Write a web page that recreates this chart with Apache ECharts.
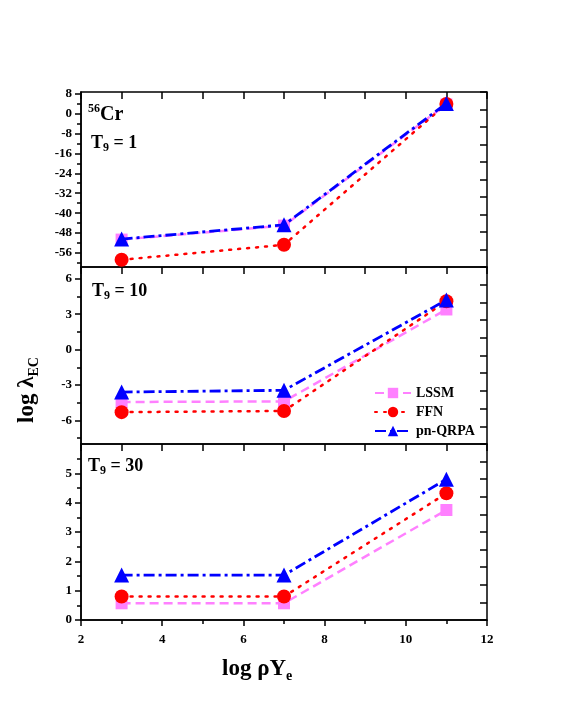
<!DOCTYPE html>
<html>
<head>
<meta charset="utf-8">
<script src="https://cdn.jsdelivr.net/npm/echarts@6/dist/echarts.min.js"></script>
<style>
  html, body { margin: 0; padding: 0; background: #fff; }
  #chart { width: 561px; height: 726px; }
</style>
</head>
<body>
<div id="chart"></div>
<script>
// log rhoYe
var xVals = [3, 7, 11];

// T9 = 1
var lssm1 = [-50.6, -45.0, 3.6];
var ffn1 = [-58.7, -52.7, 3.8];
var qrpa1 = [-50.4, -44.7, 4.0];

// T9 = 10
var lssm10 = [-4.44, -4.39, 3.4];
var ffn10 = [-5.3, -5.2, 4.1];
var qrpa10 = [-3.6, -3.45, 4.2];

// T9 = 30
var lssm30 = [0.57, 0.57, 3.75];
var ffn30 = [0.8, 0.8, 4.32];
var qrpa30 = [1.53, 1.53, 4.8];

// tick labels
var yMajor1 = [-56, -48, -40, -32, -24, -16, -8, 0, 8];
var yMinor1 = [-60, -52, -44, -36, -28, -20, -12, -4, 4];
var yMajor10 = [-6, -3, 0, 3, 6];
var yMinor10 = [-7.5, -4.5, -1.5, 1.5, 4.5];
var yMajor30 = [0, 1, 2, 3, 4, 5];
var yMinor30 = [0.5, 1.5, 2.5, 3.5, 4.5, 5.5];

var ranges = [[-61.6, 8.6], [-8, 7], [0, 6]];
var majors = [yMajor1, yMajor10, yMajor30];
var minors = [yMinor1, yMinor10, yMinor30];

var font = 'Liberation Serif';
var pink = '#ff80ff', red = '#ff0000', blue = '#0000ff';

var chart = echarts.init(document.getElementById('chart'));

var grids = [
  { left: 81, right: 74, top: 92, height: 175 },
  { left: 81, right: 74, top: 267, height: 177 },
  { left: 81, right: 74, top: 444, height: 176 }
];
grids.forEach(function (g) {
  g.show = true;
  g.borderColor = '#000';
  g.borderWidth = 1.5;
  g.backgroundColor = 'transparent';
});

var black = { color: '#000', width: 1.5 };
var xAxes = [], yAxes = [];
// bottom x axes 0..2
for (var i = 0; i < 3; i++) {
  var last = i === 2;
  xAxes.push({
    type: 'value', gridIndex: i, min: 2, max: 12, interval: 2,
    position: 'bottom',
    axisLine: { show: last, onZero: false, lineStyle: black },
    axisTick: { show: last, inside: false, length: 6, lineStyle: black },
    minorTick: { show: last, splitNumber: 2, length: 4, lineStyle: black },
    axisLabel: { show: last, margin: 13, color: '#000', fontFamily: font, fontWeight: 'bold', fontSize: 13 },
    splitLine: { show: false }
  });
}
// top x axes 3..5
for (var i = 0; i < 3; i++) {
  xAxes.push({
    type: 'value', gridIndex: i, min: 2, max: 12, interval: 1,
    position: 'top',
    axisLine: { show: false, onZero: false },
    axisTick: { show: true, inside: true, length: 7, lineStyle: black },
    axisLabel: { show: false },
    splitLine: { show: false }
  });
}
// left major y axes 0..2
for (var i = 0; i < 3; i++) {
  yAxes.push({
    type: 'value', gridIndex: i, min: ranges[i][0], max: ranges[i][1],
    position: 'left',
    axisLine: { show: true, onZero: false, lineStyle: black },
    axisTick: { show: true, inside: false, length: 6, customValues: majors[i], lineStyle: black },
    axisLabel: { show: true, margin: 9, customValues: majors[i], color: '#000', fontFamily: font, fontWeight: 'bold', fontSize: 13 },
    splitLine: { show: false }
  });
}
// right y axes 3..5 (10 equal divisions)
for (var i = 0; i < 3; i++) {
  yAxes.push({
    type: 'value', gridIndex: i, min: ranges[i][0], max: ranges[i][1],
    interval: (ranges[i][1] - ranges[i][0]) / 10,
    position: 'right',
    axisLine: { show: false, onZero: false },
    axisTick: { show: true, inside: true, length: 7, lineStyle: black },
    axisLabel: { show: false },
    splitLine: { show: false }
  });
}
// left minor y axes 6..8
for (var i = 0; i < 3; i++) {
  yAxes.push({
    type: 'value', gridIndex: i, min: ranges[i][0], max: ranges[i][1],
    position: 'left',
    axisLine: { show: false, onZero: false },
    axisTick: { show: true, inside: false, length: 4, customValues: minors[i], lineStyle: black },
    axisLabel: { show: false },
    splitLine: { show: false }
  });
}

function pairs(ys) {
  return xVals.map(function (x, k) { return [x, ys[k]]; });
}

var panelData = [
  [lssm1, ffn1, qrpa1],
  [lssm10, ffn10, qrpa10],
  [lssm30, ffn30, qrpa30]
];

var styles = [
  { name: 'LSSM', color: pink, symbol: 'rect', size: 12, line: { type: [9, 5], width: 2.5 } },
  { name: 'FFN', color: red, symbol: 'circle', size: 14, line: { type: [2, 7], width: 2.5, cap: 'round' } },
  { name: 'pn-QRPA', color: blue, symbol: 'triangle', size: 15, line: { type: [11, 4, 3, 4], width: 2.8 } }
];

var series = [];
for (var p = 0; p < 3; p++) {
  styles.forEach(function (s, k) {
    series.push({
      name: s.name,
      type: 'line',
      xAxisIndex: p,
      yAxisIndex: p,
      data: pairs(panelData[p][k]),
      symbol: s.symbol,
      symbolSize: s.size,
      itemStyle: { color: s.color },
      lineStyle: { color: s.color, width: s.line.width, type: s.line.type, cap: s.line.cap || 'butt' },
      z: 2 + k,
      animation: false
    });
  });
}

function tok(size, lh, va, pad) {
  var t = { fontFamily: font, fontWeight: 'bold', fontSize: size, color: '#000', lineHeight: lh, verticalAlign: va };
  if (pad) t.padding = pad;
  return t;
}
var rich = {
  cr: tok(20, 22, 'bottom'),
  sup: tok(12, 12, 'top'),
  b: tok(18, 20, 'top'),
  sub: tok(12, 12, 'bottom', [13, 0, 0, 0]),
  tb: tok(23, 25, 'top'),
  tsub: tok(14, 14, 'bottom', [17, 0, 0, 0])
};

chart.setOption({
  animation: false,
  grid: grids,
  xAxis: xAxes,
  yAxis: yAxes,
  legend: {
    data: ['LSSM', 'FFN', 'pn-QRPA'],
    orient: 'vertical',
    left: 369,
    top: 381,
    itemWidth: 36,
    itemHeight: 13,
    itemGap: 5,
    textStyle: { fontFamily: font, fontWeight: 'bold', fontSize: 14, color: '#000' }
  },
  graphic: [
    { type: 'text', left: 88, top: 103, style: { text: '{sup|56}{cr|Cr}', rich: rich } },
    { type: 'text', left: 91, top: 129, style: { text: '{b|T}{sub|9}{b| = 1}', rich: rich } },
    { type: 'text', left: 92, top: 277, style: { text: '{b|T}{sub|9}{b| = 10}', rich: rich } },
    { type: 'text', left: 88, top: 452, style: { text: '{b|T}{sub|9}{b| = 30}', rich: rich } },
    { type: 'text', left: 222, top: 652, style: { text: '{tb|log ρY}{tsub|e}', rich: rich } },
    { type: 'text', x: 16, y: 423, rotation: Math.PI / 2, style: { text: '{tb|log λ}{tsub|EC}', rich: rich } }
  ],
  series: series
});
</script>
</body>
</html>
